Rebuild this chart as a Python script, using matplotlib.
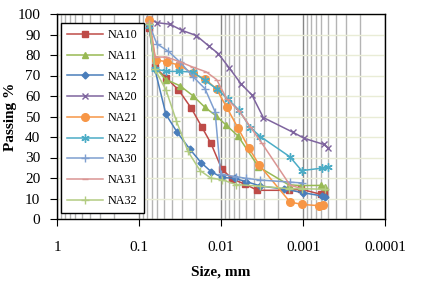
import matplotlib
matplotlib.use("Agg")
import matplotlib.pyplot as plt

plt.rcParams['font.family'] = ['Liberation Serif', 'DejaVu Serif']

# grain size (mm) and percent passing for each sample
na10_size = [0.075, 0.064, 0.047, 0.033, 0.023, 0.0172, 0.0133, 0.0098, 0.0073, 0.0051, 0.0036, 0.0015, 0.00105, 0.0006, 0.00055]
na10_pass = [93, 74, 69, 63, 54, 45, 37, 24.5, 19.5, 17, 14, 14, 14.5, 12, 12]

na11_size = [0.075, 0.064, 0.047, 0.0316, 0.0218, 0.0157, 0.0114, 0.0087, 0.0062, 0.0035, 0.0015, 0.00105, 0.0006, 0.00054]
na11_pass = [96, 74, 68, 65, 60, 54.5, 50.2, 45.9, 40.5, 25.5, 16.7, 16.3, 16.4, 15.6]

na12_size = [0.075, 0.064, 0.0469, 0.0341, 0.0239, 0.0175, 0.0132, 0.0098, 0.0068, 0.0049, 0.0033, 0.0017, 0.00099, 0.00058, 0.00054]
na12_pass = [95, 73, 51, 42.2, 34, 27.5, 23.1, 20.3, 19.8, 18.2, 16.1, 14.6, 12.8, 11.2, 10.6]

na20_size = [0.075, 0.0608, 0.0419, 0.0299, 0.02, 0.0141, 0.0108, 0.0079, 0.0057, 0.0042, 0.00305, 0.00131, 0.00096, 0.00056, 0.00049]
na20_pass = [97.5, 95.8, 95, 92, 89.5, 84.4, 80.7, 73.6, 65.9, 60.5, 49.5, 42.2, 39.3, 36.4, 34.5]

na21_size = [0.075, 0.0626, 0.0459, 0.0322, 0.0221, 0.0157, 0.0113, 0.0085, 0.00625, 0.0046, 0.0034, 0.00144, 0.00103, 0.00063, 0.000575]
na21_pass = [97, 77.6, 76.7, 75, 71, 68.4, 63.3, 54.4, 44.6, 34.8, 26.2, 8.3, 7.1, 6.5, 7.0]

na22_size = [0.075, 0.064, 0.0469, 0.0322, 0.0221, 0.0157, 0.0113, 0.0083, 0.006, 0.0044, 0.0033, 0.00144, 0.00104, 0.00059, 0.00049]
na22_pass = [94, 73.3, 72, 72, 71.7, 67.6, 63.5, 58.7, 53, 44.6, 40.2, 30.3, 23.6, 24.8, 25.2]

na30_size = [0.075, 0.0608, 0.0439, 0.0316, 0.0218, 0.0157, 0.0118, 0.0101, 0.0065, 0.0049, 0.0033, 0.00144, 0.00104]
na30_pass = [95, 85.5, 81.8, 76.6, 69.3, 63.6, 52.3, 21.8, 20.6, 19.8, 19, 18, 17.6]

na31_size = [0.075, 0.064, 0.0464, 0.0322, 0.0218, 0.0152, 0.0113, 0.0085, 0.006, 0.0044, 0.0032, 0.00144, 0.00106]
na31_pass = [96, 79, 79, 76.8, 74, 71.8, 68, 58.5, 52.7, 45, 37.2, 16.5, 15]

na32_size = [0.075, 0.064, 0.0469, 0.0349, 0.0253, 0.018, 0.0132, 0.0098, 0.0065, 0.0033, 0.0015, 0.00103, 0.00054]
na32_pass = [95, 73, 63, 47.7, 33, 23.6, 19.9, 19.2, 16.8, 16, 14.8, 14.8, 14.5]

series = [
    ("NA10", na10_size, na10_pass, "#BE4B48", "s", 4.5),
    ("NA11", na11_size, na11_pass, "#98B954", "^", 5),
    ("NA12", na12_size, na12_pass, "#4A7EBB", "D", 3.5),
    ("NA20", na20_size, na20_pass, "#7E649E", "x", 5),
    ("NA21", na21_size, na21_pass, "#F79646", "o", 5.5),
    ("NA22", na22_size, na22_pass, "#4BACC6", (6, 2, 0), 6),
    ("NA30", na30_size, na30_pass, "#7F9FD0", "+", 6),
    ("NA31", na31_size, na31_pass, "#DA9593", "_", 4),
    ("NA32", na32_size, na32_pass, "#B3CC82", "+", 6),
]

fig = plt.figure(figsize=(4.23, 2.86), dpi=100)
ax = fig.add_axes([57 / 423, 1 - 219 / 286, 328 / 423, 205 / 286])

for name, xs, ys, color, marker, ms in series:
    ax.plot(xs, ys, color=color, marker=marker, markersize=ms, linewidth=1.1,
            markeredgewidth=1.0, label=name)

ax.set_xscale("log")
ax.set_xlim(1, 0.0001)
ax.set_ylim(0, 100)
ax.set_yticks(range(0, 101, 10))
ax.set_xticks([1, 0.1, 0.01, 0.001, 0.0001])
ax.set_xticklabels(["1", "0.1", "0.01", "0.001", "0.0001"])

ax.grid(True, which="minor", axis="x", color="#B4B4B4", linewidth=1.0)
ax.grid(True, which="major", axis="x", color="#868686", linewidth=1.0)
ax.grid(True, which="major", axis="y", color="#E9ECD6", linewidth=1.0)
ax.set_axisbelow(True)

ax.tick_params(axis="x", which="major", direction="out", length=5, pad=11, labelsize=11)
ax.tick_params(axis="x", which="minor", length=0)
ax.tick_params(axis="y", direction="out", length=5, pad=7, labelsize=11)
for s in ax.spines.values():
    s.set_color("black")
    s.set_linewidth(1.0)

ax.set_xlabel("Size, mm", fontsize=11, fontweight="bold", labelpad=8)
ax.set_ylabel("Passing %", fontsize=11, fontweight="bold", labelpad=0)

leg = ax.legend(loc="upper left", bbox_to_anchor=(0.012, 0.955), fontsize=8.7,
                handlelength=3.0, labelspacing=0.72, borderpad=0.5,
                handletextpad=0.4, fancybox=False, framealpha=1.0,
                edgecolor="black", borderaxespad=0)
leg.get_frame().set_linewidth(1.0)

fig.savefig("out.png", dpi=100)
